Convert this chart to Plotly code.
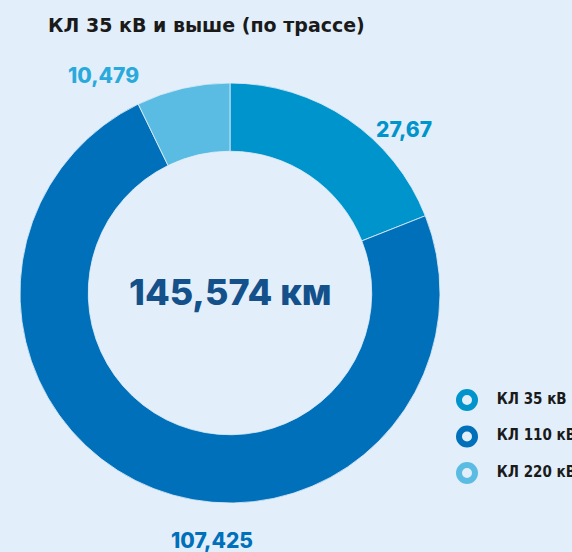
import plotly.graph_objects as go

categories = ["КЛ 35 кВ", "КЛ 110 кВ", "КЛ 220 кВ"]
values = [27.67, 107.425, 10.479]
colors = ["#0094CC", "#0070BA", "#5BBCE3"]
label_colors = ["#0094CC", "#0070BA", "#2AAADC"]
title_text = "КЛ 35 кВ и выше (по трассе)"
unit = "км"

BG = "#E2EFFA"
W, H = 572, 552

def fmt(v):
    s = ("%.3f" % v).rstrip("0").rstrip(".")
    return s.replace(".", ",")

total = sum(values)

fig = go.Figure()
fig.add_trace(go.Pie(
    labels=categories, values=values, hole=0.675, sort=False,
    direction="clockwise", rotation=0,
    marker=dict(colors=colors, line=dict(color=BG, width=0.8)),
    textinfo="none", hoverinfo="label+value", showlegend=False,
    domain=dict(x=[20 / W, 440 / W], y=[(H - 503) / H, (H - 83) / H]),
))

# legend built as a scatter on a hidden categorical axis (ring markers)
fig.add_trace(go.Scatter(
    x=[0] * len(categories), y=categories, mode="markers+text",
    text=["\u00a0\u00a0\u00a0\u00a0" + c for c in categories], textposition="middle right",
    textfont=dict(family="Liberation Sans Narrow, DejaVu Sans Condensed, sans-serif",
                  size=15, color="#1A1A1A", weight=700),
    marker=dict(symbol="circle-open", size=16, color=colors,
                line=dict(width=6, color=colors)),
    cliponaxis=False, showlegend=False, hoverinfo="skip",
))

# value labels around the ring
label_pos = [(404, 130), (212, 540), (103, 76)]
anns = []
for v, lc, (px, py) in zip(values, label_colors, label_pos):
    anns.append(dict(x=px / W, y=1 - py / H, xref="paper", yref="paper",
                     xanchor="center", yanchor="middle",
                     text=fmt(v), showarrow=False,
                     font=dict(family="Inter, Lato, sans-serif", size=21,
                               color=lc, weight=800)))
anns.append(dict(x=230 / W, y=1 - 292 / H, xref="paper", yref="paper",
                 xanchor="center", yanchor="middle",
                 text=f"{fmt(total)} {unit}", showarrow=False,
                 font=dict(family="Inter, Lato, sans-serif", size=36,
                           color="#14508A", weight=800)))
anns.append(dict(x=46 / W, y=1 - 25 / H, xref="paper", yref="paper",
                 xanchor="left", yanchor="middle", text=title_text, showarrow=False,
                 font=dict(family="DejaVu Sans, sans-serif", size=19,
                           color="#1A1A1A", weight=700)))

fig.update_layout(
    width=W, height=H,
    margin=dict(l=0, r=0, t=0, b=0, autoexpand=False),
    paper_bgcolor=BG, plot_bgcolor="rgba(0,0,0,0)",
    showlegend=False,
    xaxis=dict(visible=False, domain=[467 / W, 1], range=[0, 1], fixedrange=True),
    yaxis=dict(visible=False, domain=[1 - 488.25 / H, 1 - 384.75 / H],
               type="category", autorange="reversed", fixedrange=True),
    annotations=anns,
)

fig.write_html(
    "out.html",
    config={"displayModeBar": False},
    post_script="document.body.style.margin='0';document.body.style.padding='0';"
                "document.body.style.background='" + BG + "';",
)
